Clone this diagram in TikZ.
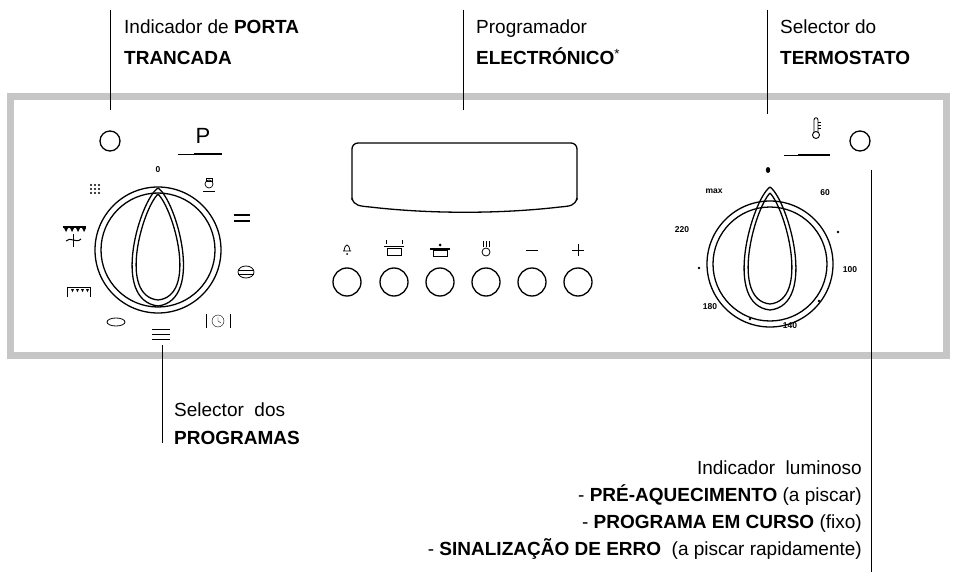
\documentclass[tikz,border=0pt]{standalone}
\usepackage{fontspec}
\setmainfont{Liberation Sans}
\begin{document}
\begin{tikzpicture}[x=1pt,y=-1pt,
  lbl/.style={font=\fontsize{19}{21}\selectfont, inner sep=0pt},
  lead/.style={line width=0.9pt},
  ring/.style={line width=1.3pt},
  sm/.style={font=\fontsize{8.5}{9}\selectfont\bfseries, inner sep=0pt},
  btn/.style={circle, draw, line width=1.3pt, minimum size=28pt, inner sep=0pt}]
\useasboundingbox (0,0) rectangle (959,578);
\draw[line width=7pt, gray!45] (10,97) rectangle (946,355);
% leader lines
\coordinate (p1) at (110,10); \coordinate (p2) at (110,110);
\draw[lead] (p1) -- (p2);
\node[lbl, anchor=base west] (t1) at (124,34) {Indicador de \textbf{PORTA}};
\node[lbl, anchor=base west] (t1b) at (124,65) {\textbf{TRANCADA}};
\coordinate (p3) at (463,10); \coordinate (p4) at (463,110);
\draw[lead] (p3) -- (p4);
\node[lbl, anchor=base west] (t2) at (476,34) {Programador};
\node[lbl, anchor=base west] (t2b) at (476,65) {\textbf{ELECTRÓNICO}\textsuperscript{*}};
\coordinate (p5) at (767,10); \coordinate (p6) at (767,114);
\draw[lead] (p5) -- (p6);
\node[lbl, anchor=base west] (t3) at (780,34) {Selector do};
\node[lbl, anchor=base west] (t3b) at (780,65) {\textbf{TERMOSTATO}};
% left light
\node[circle, draw, ring, minimum size=20pt, inner sep=0pt] (l1) at (110,141) {};
% left knob
\node[circle, draw, ring, minimum size=126pt, inner sep=0pt] (k1) at (158,250) {};
\draw[ring] (k1) circle (57);
\draw[ring] (158,188) .. controls (140,200) and (110,300) .. (158,306) .. controls (205,300) and (176,200) .. (158,188);
\draw[ring] (158,194) .. controls (142,210) and (118,296) .. (158,300) .. controls (198,296) and (174,210) .. (158,194);
\node[sm] (z0) at (158,170) {0};
\node[font=\fontsize{22}{24}\selectfont, inner sep=0pt] (P) at (203,136) {P};
\draw[line width=0.6pt] (178,154) -- (222,154); \draw[line width=1.8pt] (194,154) -- (222,154);
% bulb
\draw[line width=0.7pt] (209,184) circle (4); \draw (206,178) rectangle (212,181); \draw (203,191) -- (215,191);
% dots grid
\foreach \i in {0,1,2} \foreach \j in {0,1,2} \fill (91+\i*4,185+\j*4) circle (1.1);
\draw[line width=1.3pt] (234,215) -- (250,215) (234,221) -- (250,221);
% fan grill
\draw[line width=2.2pt] (63,227) -- (86,227);
\foreach \i in {66,72,78,84} \fill (\i-2,228) -- (\i+2,228) -- (\i,232) -- cycle;
\draw[line width=1pt] (73,234) -- (73,247); \draw[line width=1pt] (66,241) .. controls (70,236) and (76,244) .. (81,239);
% grill
\draw[line width=0.9pt] (67,297) -- (67,287) -- (90,287) -- (90,297);
\foreach \i in {72,77,82,87} \fill (\i-1,289) -- (\i+2,289) -- (\i+0.5,292) -- cycle;
% oval
\draw[line width=0.8pt] (116,322) ellipse (9 and 4);
% bottom icon
\draw[line width=0.8pt] (152,329) -- (170,329) (152,334) -- (170,334) (152,339) -- (170,339);
% stack
\draw[line width=0.8pt] (246,272) ellipse (8 and 6); \draw (238,270) -- (254,270) (238,274) -- (254,274);
% clock
\draw[line width=1pt] (206,314) -- (206,328) (230,314) -- (230,328); \draw (218,321) circle (6); \draw (218,321) -- (218,317) (218,321) -- (221,323);
% selector line
\coordinate (p7) at (162,345); \coordinate (p8) at (162,443);
\draw[lead] (p7) -- (p8);
\node[lbl, anchor=base west] (t4) at (174,416) {Selector\ \ dos};
\node[lbl, anchor=base west] (t4b) at (174,444) {\textbf{PROGRAMAS}};
% display
\draw[ring, rounded corners=6pt] (352,200) -- (352,143) -- (577,143) -- (577,200);
\draw[ring] (352,198) .. controls (354,206) and (360,206) .. (370,207) .. controls (430,214) and (500,214) .. (560,207) .. controls (570,206) and (575,206) .. (577,198);
% buttons
\foreach \n/\x in {b1/347,b2/394,b3/440,b4/486,b5/532,b6/578} \node[btn] (\n) at (\x,282) {};
\draw[line width=0.8pt] (343,251) -- (351,251) (344,251) .. controls (345,243) and (349,243) .. (350,251); \fill (347,254) circle (1);
\draw[line width=0.8pt] (387,248) rectangle (401,255); \draw (384,246) -- (404,246); \draw (386,244) -- (386,240) (402,244) -- (402,240);
\draw[line width=0.8pt] (433,250) rectangle (447,256); \draw[line width=1.5pt] (430,249) -- (450,249); \fill (440,245) circle (1.5);
\draw[line width=0.8pt] (486,252) circle (4); \draw (483,241) -- (483,247) (486,241) -- (486,247) (489,241) -- (489,247);
\draw[line width=1pt] (526,250) -- (538,250);
\draw[line width=1pt] (572,250) -- (584,250) (578,244) -- (578,256);
% right
\node[circle, draw, ring, minimum size=20pt, inner sep=0pt] (l2) at (860,141) {};
\draw[line width=0.9pt] (816,135) circle (3.5);
\draw[line width=0.9pt] (814,132) -- (814,120) .. controls (814,117) and (818,117) .. (818,120) -- (818,132);
\draw[line width=0.5pt] (818,122) -- (821,122) (818,125) -- (821,125) (818,128) -- (821,128);
\draw[line width=0.6pt] (784,155) -- (830,155); \draw[line width=1.8pt] (798,155) -- (830,155);
\node[circle, draw, ring, minimum size=126pt, inner sep=0pt] (k2) at (770,264) {};
\draw[ring] (k2) circle (57);
\draw[ring] (770,187) .. controls (752,200) and (722,305) .. (770,310) .. controls (818,305) and (788,200) .. (770,187);
\draw[ring] (770,193) .. controls (754,210) and (730,300) .. (770,304) .. controls (810,300) and (786,210) .. (770,193);
\fill (768,170) ellipse (2.2 and 3);
\node[sm] (m1) at (714,191) {max};
\node[sm] (m2) at (825,193) {60};
\node[sm] (m3) at (682,230) {220};
\node[sm] (m4) at (850,270) {100};
\node[sm] (m5) at (710,307) {180};
\node[sm] (m6) at (790,326) {140};
\foreach \p in {(838,232),(699,268),(819,301),(750,319)} \fill \p circle (1.3);
% right line
\coordinate (p9) at (871,170); \coordinate (p10) at (871,572);
\draw[lead] (p9) -- (p10);
\node[lbl, anchor=base east] (u1) at (862,474) {Indicador\ \ luminoso};
\node[lbl, anchor=base east] (u2) at (862,501) {- \textbf{PRÉ-AQUECIMENTO} (a piscar)};
\node[lbl, anchor=base east] (u3) at (862,528) {- \textbf{PROGRAMA EM CURSO} (fixo)};
\node[lbl, anchor=base east] (u4) at (862,555) {- \textbf{SINALIZAÇÃO DE ERRO}\ \ (a piscar rapidamente)};
\end{tikzpicture}
\end{document}
